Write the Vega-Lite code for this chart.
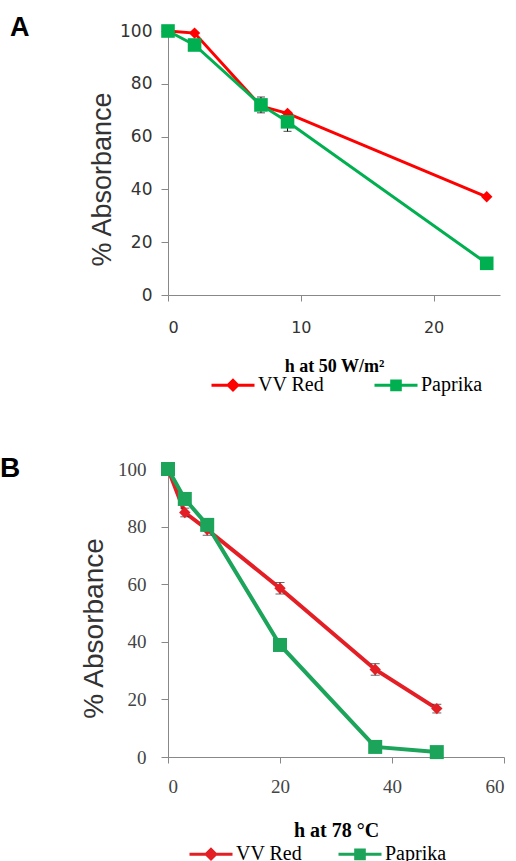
{
  "$schema": "https://vega.github.io/schema/vega-lite/v6.json",
  "padding": {"left": 0, "top": 14, "right": 0, "bottom": 0},
  "background": "white",
  "config": {"view": {"stroke": null}, "axis": {"grid": false, "domainColor": "#888", "tickColor": "#888"}},
  "datasets": {
    "a": [
      {"h": 0, "v": 100, "s": "VV Red"},
      {"h": 2, "v": 99.2, "s": "VV Red"},
      {"h": 7, "v": 71.5, "s": "VV Red"},
      {"h": 9, "v": 68.8, "s": "VV Red"},
      {"h": 24, "v": 37.2, "s": "VV Red"},
      {"h": 0, "v": 100, "s": "Paprika"},
      {"h": 2, "v": 94.7, "s": "Paprika"},
      {"h": 7, "v": 72, "s": "Paprika"},
      {"h": 9, "v": 65.6, "s": "Paprika"},
      {"h": 24, "v": 12, "s": "Paprika"}
    ],
    "aerr": [
      {"h": 7, "lo": 69, "hi": 75},
      {"h": 9, "lo": 62, "hi": 69.2}
    ],
    "b": [
      {"h": 0, "v": 100, "s": "VV Red"},
      {"h": 3, "v": 84.9, "s": "VV Red"},
      {"h": 7, "v": 79, "s": "VV Red"},
      {"h": 20, "v": 58.6, "s": "VV Red"},
      {"h": 37, "v": 30.4, "s": "VV Red"},
      {"h": 48, "v": 16.8, "s": "VV Red"},
      {"h": 0, "v": 100, "s": "Paprika"},
      {"h": 3, "v": 89.6, "s": "Paprika"},
      {"h": 7, "v": 80.6, "s": "Paprika"},
      {"h": 20, "v": 38.9, "s": "Paprika"},
      {"h": 37, "v": 3.5, "s": "Paprika"},
      {"h": 48, "v": 1.7, "s": "Paprika"}
    ],
    "berr": [
      {"h": 3, "lo": 83.4, "hi": 86.4},
      {"h": 7, "lo": 77, "hi": 81},
      {"h": 20, "lo": 56.6, "hi": 60.6},
      {"h": 37, "lo": 28.4, "hi": 32.4},
      {"h": 48, "lo": 15.3, "hi": 18.3}
    ]
  },
  "spacing": 59,
  "resolve": {
    "scale": {"x": "independent", "y": "independent", "color": "independent"},
    "axis": {"x": "independent", "y": "independent"},
    "legend": {"color": "independent"}
  },
  "vconcat": [
    {
      "width": 332,
      "height": 264,
      "title": {"text": "A", "anchor": "start", "frame": "group", "dx": -158, "dy": 41, "offset": 0, "baseline": "alphabetic", "font": "Liberation Sans", "fontSize": 27, "fontWeight": "bold", "color": "black"},
      "layer": [
        {
          "data": {"name": "a"},
          "mark": {"type": "line", "strokeWidth": 3},
          "encoding": {
            "x": {"field": "h", "type": "quantitative", "title": "h at 50 W/m²", "scale": {"domain": [0, 25], "nice": false},
              "axis": {"values": [0, 10, 20], "labelFont": "DejaVu Sans", "labelFontSize": 16, "labelColor": "#333", "labelPadding": 18, "tickSize": 6,
                "titleFont": "Liberation Serif", "titleFontSize": 18, "titleFontWeight": "bold", "titleColor": "black", "titlePadding": 22}},
            "y": {"field": "v", "type": "quantitative", "title": "% Absorbance", "scale": {"domain": [0, 100], "nice": false},
              "axis": {"values": [0, 20, 40, 60, 80, 100], "labelFont": "DejaVu Sans", "labelFontSize": 17, "labelColor": "#333", "labelPadding": 9, "tickSize": 7,
                "titleFont": "Liberation Sans", "titleFontSize": 27, "titleFontWeight": "normal", "titleColor": "#333", "titleX": -58, "titleY": 148, "titleAlign": "center", "titleBaseline": "alphabetic"}},
            "color": {"field": "s", "type": "nominal", "scale": {"domain": ["VV Red", "Paprika"], "range": ["#ff0000", "#00b050"]},
              "legend": {"orient": "none", "legendX": 42, "legendY": 331, "direction": "horizontal", "title": null, "labelFont": "Liberation Serif", "labelFontSize": 20, "labelColor": "black",
                "symbolSize": 1849, "symbolStrokeWidth": 3, "labelOffset": 2, "columnPadding": 43, "padding": 0,
                "encode": {
                  "labels": {"update": {"font": {"value": "Liberation Serif"}, "fontSize": {"value": 20}}},
                  "symbols": {"update": {
                  "shape": [{"test": "datum.value === 'VV Red'", "value": "M-1,0H1M-0.22,0L0,-0.22L0.22,0L0,0.22Z"}, {"value": "M-1,0H1M-0.2,-0.2H0.2V0.2H-0.2Z"}],
                  "size": {"value": 1849},
                  "fill": [{"test": "datum.value === 'VV Red'", "value": "#ff0000"}, {"value": "#00b050"}],
                  "stroke": [{"test": "datum.value === 'VV Red'", "value": "#ff0000"}, {"value": "#00b050"}],
                  "strokeWidth": {"value": 3}, "opacity": {"value": 1}, "fillOpacity": {"value": 1}}}}}}
          }
        },
        {
          "data": {"name": "aerr"},
          "mark": {"type": "errorbar", "color": "black", "thickness": 1, "ticks": {"size": 8, "color": "black"}},
          "encoding": {
            "x": {"field": "h", "type": "quantitative", "title": "h at 50 W/m²"},
            "y": {"field": "lo", "type": "quantitative", "title": "% Absorbance"},
            "y2": {"field": "hi"}
          }
        },
        {
          "data": {"name": "a"},
          "transform": [{"filter": "datum.s === 'VV Red'"}],
          "mark": {"type": "point", "filled": true, "opacity": 1, "shape": "diamond", "size": 130},
          "encoding": {
            "x": {"field": "h", "type": "quantitative", "title": "h at 50 W/m²"},
            "y": {"field": "v", "type": "quantitative", "title": "% Absorbance"},
            "color": {"field": "s", "type": "nominal"}
          }
        },
        {
          "data": {"name": "a"},
          "transform": [{"filter": "datum.s === 'Paprika'"}],
          "mark": {"type": "point", "filled": true, "opacity": 1, "shape": "square", "size": 185},
          "encoding": {
            "x": {"field": "h", "type": "quantitative", "title": "h at 50 W/m²"},
            "y": {"field": "v", "type": "quantitative", "title": "% Absorbance"},
            "color": {"field": "s", "type": "nominal"}
          }
        }
      ]
    },
    {
      "width": 336,
      "height": 288,
      "title": {"text": "B", "anchor": "start", "frame": "group", "dx": -168, "dy": 45, "offset": 0, "baseline": "alphabetic", "font": "Liberation Sans", "fontSize": 28, "fontWeight": "bold", "color": "black"},
      "layer": [
        {
          "data": {"name": "b"},
          "mark": {"type": "line", "strokeWidth": 4},
          "encoding": {
            "x": {"field": "h", "type": "quantitative", "title": "h at 78 °C", "scale": {"domain": [0, 60], "nice": false},
              "axis": {"values": [0, 20, 40, 60], "labelFont": "Liberation Serif", "labelFontSize": 19, "labelColor": "#444", "labelPadding": 14, "tickSize": 6,
                "titleFont": "Liberation Serif", "titleFontSize": 20, "titleFontWeight": "bold", "titleColor": "black", "titlePadding": 24}},
            "y": {"field": "v", "type": "quantitative", "title": "% Absorbance", "scale": {"domain": [0, 100], "nice": false},
              "axis": {"values": [0, 20, 40, 60, 80, 100], "labelFont": "Liberation Serif", "labelFontSize": 19, "labelColor": "#444", "labelPadding": 15, "tickSize": 7,
                "titleFont": "Liberation Sans", "titleFontSize": 28, "titleFontWeight": "normal", "titleColor": "#333", "titleX": -66, "titleY": 159, "titleAlign": "center", "titleBaseline": "alphabetic"}},
            "color": {"field": "s", "type": "nominal", "scale": {"domain": ["VV Red", "Paprika"], "range": ["#e41e25", "#1ba45a"]},
              "legend": {"orient": "none", "legendX": 20, "legendY": 362, "direction": "horizontal", "title": null, "labelFont": "Liberation Serif", "labelFontSize": 20, "labelColor": "black",
                "symbolSize": 1849, "symbolStrokeWidth": 3, "labelOffset": 2, "columnPadding": 29, "padding": 0,
                "encode": {
                  "labels": {"update": {"font": {"value": "Liberation Serif"}, "fontSize": {"value": 20}}},
                  "symbols": {"update": {
                  "shape": [{"test": "datum.value === 'VV Red'", "value": "M-1,0H1M-0.22,0L0,-0.22L0.22,0L0,0.22Z"}, {"value": "M-1,0H1M-0.2,-0.2H0.2V0.2H-0.2Z"}],
                  "size": {"value": 1849},
                  "fill": [{"test": "datum.value === 'VV Red'", "value": "#e41e25"}, {"value": "#1ba45a"}],
                  "stroke": [{"test": "datum.value === 'VV Red'", "value": "#b81c30"}, {"value": "#1ba45a"}],
                  "strokeWidth": {"value": 3}, "opacity": {"value": 1}, "fillOpacity": {"value": 1}}}}}}
          }
        },
        {
          "data": {"name": "berr"},
          "mark": {"type": "errorbar", "color": "#222", "thickness": 1, "ticks": {"size": 9, "color": "#222"}},
          "encoding": {
            "x": {"field": "h", "type": "quantitative", "title": "h at 78 °C"},
            "y": {"field": "lo", "type": "quantitative", "title": "% Absorbance"},
            "y2": {"field": "hi"}
          }
        },
        {
          "data": {"name": "b"},
          "transform": [{"filter": "datum.s === 'VV Red'"}],
          "mark": {"type": "point", "filled": true, "opacity": 1, "shape": "diamond", "size": 130},
          "encoding": {
            "x": {"field": "h", "type": "quantitative", "title": "h at 78 °C"},
            "y": {"field": "v", "type": "quantitative", "title": "% Absorbance"},
            "color": {"field": "s", "type": "nominal"}
          }
        },
        {
          "data": {"name": "b"},
          "transform": [{"filter": "datum.s === 'Paprika'"}],
          "mark": {"type": "point", "filled": true, "opacity": 1, "shape": "square", "size": 196},
          "encoding": {
            "x": {"field": "h", "type": "quantitative", "title": "h at 78 °C"},
            "y": {"field": "v", "type": "quantitative", "title": "% Absorbance"},
            "color": {"field": "s", "type": "nominal"}
          }
        }
      ]
    }
  ]
}
